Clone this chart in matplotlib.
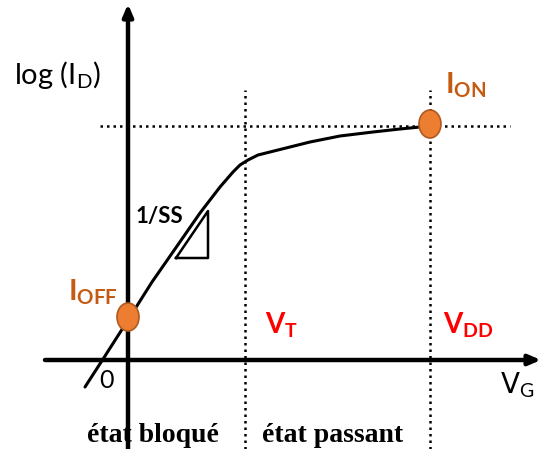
import numpy as np
import matplotlib
matplotlib.use('Agg')
import matplotlib.pyplot as plt
from matplotlib.patches import Ellipse

plt.rcParams['mathtext.fontset'] = 'custom'
plt.rcParams['mathtext.rm'] = 'Lato'
plt.rcParams['mathtext.bf'] = 'Lato:bold'

# coordinates: origin at the axes crossing, arbitrary units (x = V_G, y = log I_D)
vg = np.array([-43, -23, 0, 24, 47, 72, 92, 105, 112, 120, 130, 142, 162, 182, 212, 245, 272, 292, 302])
logid = np.array([-27, 4, 40, 78, 111, 147, 173, 188, 195, 200, 205, 208, 213, 218, 224, 228, 231, 233, 235])

v_t = 117
v_dd = 302
i_on = 235
i_off = 43
triangle_x = [48, 80, 80, 48]
triangle_y = [102, 102, 149, 102]

fig = plt.figure(figsize=(5.42, 4.49), dpi=100)
ax = fig.add_axes([0, 0, 1, 1])
ax.set_xlim(-128, 414)
ax.set_ylim(-89, 360)
ax.axis('off')

# axes arrows
arr = dict(arrowstyle='-|>,head_length=0.7,head_width=0.3', lw=3.2, color='black', shrinkA=0, shrinkB=0)
ax.annotate('', xy=(413, 0), xytext=(-83, 0), arrowprops=arr)
ax.annotate('', xy=(0, 356), xytext=(0, -89), arrowprops=arr)

# dotted guides
dots = (0, (1, 1.6))
ax.plot([v_t, v_t], [-89, 270], color='black', lw=1.8, ls=dots)
ax.plot([v_dd, v_dd], [-89, 270], color='black', lw=1.8, ls=dots)
ax.plot([-28, 382], [i_on - 1, i_on - 1], color='black', lw=1.8, ls=dots)

# curve
ax.plot(vg, logid, color='black', lw=2.2, solid_capstyle='round', solid_joinstyle='round')
ax.plot(triangle_x, triangle_y, color='black', lw=1.8)

# markers
for x, y in [(v_dd, i_on + 1), (0, i_off)]:
    ax.add_patch(Ellipse((x, y), 22, 28, facecolor='#ED7D31', edgecolor='#AE5A21', lw=1.2, zorder=5))

orange = '#C55A11'
ax.text(8, 143, '1/SS', fontsize=16, fontweight='bold', family='Lato', ha='left', va='center')
ax.text(-114, 285, r'log (I$_\mathrm{D}$)', fontsize=21, family='Lato', ha='left', va='center')
ax.text(317, 275, r'$\mathbf{I_{ON}}$', fontsize=21, color=orange, ha='left', va='center')
ax.text(-60, 68, r'$\mathbf{I_{OFF}}$', fontsize=21, color=orange, ha='left', va='center')
ax.text(137, 35, r'$\mathbf{V_{T}}$', fontsize=20, color='red', ha='left', va='center')
ax.text(315, 35, r'$\mathbf{V_{DD}}$', fontsize=20, color='red', ha='left', va='center')
ax.text(372, -25, r'V$_\mathrm{G}$', fontsize=20, ha='left', va='center')
ax.text(-22, -21, '0', fontsize=18, family='Lato', ha='center', va='center')
ax.text(25, -76, 'état bloqué', fontsize=20, family='Liberation Serif', fontweight='bold', ha='center', va='center')
ax.text(205, -76, 'état passant', fontsize=20, family='Liberation Serif', fontweight='bold', ha='center', va='center')

fig.savefig('out.png', dpi=100)
